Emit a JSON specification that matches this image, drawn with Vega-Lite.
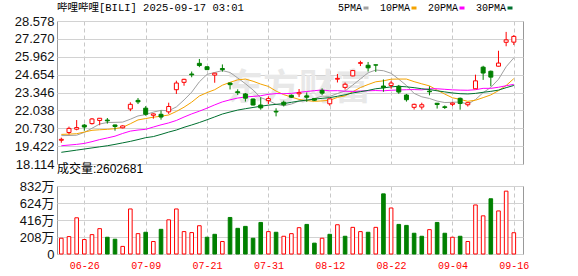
{
  "$schema": "https://vega.github.io/schema/vega-lite/v6.json",
  "padding": {"left": 13, "top": 2, "right": 4, "bottom": 0},
  "bounds": "flush",
  "spacing": 22,
  "config": {
    "view": {"stroke": "#999999", "strokeWidth": 1},
    "axis": {"labelFont": "Liberation Sans, Noto Sans CJK SC", "labelFontSize": 13, "labelColor": "#111111", "ticks": false, "domain": false, "gridColor": "#d2d2d2", "gridWidth": 1, "labelPadding": 3, "labelOverlap": false},
    "title": {"anchor": "start", "fontWeight": "normal", "color": "#000000", "frame": "group"}
  },
  "data": {"values": [
    {"d":"06-23","open":19.85,"high":20.04,"low":19.67,"close":19.92,"vol":1930000,"5PMA":20.19,"10PMA":20.28,"20PMA":19.45,"30PMA":18.97},
    {"d":"06-24","open":20.42,"high":20.85,"low":20.28,"close":20.72,"vol":2130000,"5PMA":20.20,"10PMA":20.30,"20PMA":19.50,"30PMA":19.05},
    {"d":"06-25","open":20.66,"high":21.33,"low":20.58,"close":20.78,"vol":4430000,"5PMA":20.22,"10PMA":20.33,"20PMA":19.55,"30PMA":19.13},
    {"d":"06-26","open":20.96,"high":21.04,"low":20.55,"close":20.82,"vol":1770000,"5PMA":20.43,"10PMA":20.45,"20PMA":19.62,"30PMA":19.21},
    {"d":"06-27","open":21.07,"high":21.48,"low":21.00,"close":21.41,"vol":2370000,"5PMA":20.73,"10PMA":20.58,"20PMA":19.75,"30PMA":19.29},
    {"d":"06-30","open":21.30,"high":21.48,"low":20.95,"close":21.46,"vol":3100000,"5PMA":21.04,"10PMA":20.62,"20PMA":19.90,"30PMA":19.37},
    {"d":"07-01","open":21.33,"high":21.48,"low":21.07,"close":21.27,"vol":2050000,"5PMA":21.15,"10PMA":20.65,"20PMA":20.02,"30PMA":19.45},
    {"d":"07-02","open":20.97,"high":21.00,"low":20.55,"close":20.86,"vol":1810000,"5PMA":21.16,"10PMA":20.70,"20PMA":20.15,"30PMA":19.55},
    {"d":"07-03","open":20.76,"high":20.95,"low":20.72,"close":20.90,"vol":930000,"5PMA":21.18,"10PMA":20.80,"20PMA":20.35,"30PMA":19.66},
    {"d":"07-07","open":22.14,"high":22.63,"low":21.98,"close":22.48,"vol":5510000,"5PMA":21.39,"10PMA":21.06,"20PMA":20.52,"30PMA":19.77},
    {"d":"07-08","open":22.77,"high":22.94,"low":22.50,"close":22.66,"vol":2490000,"5PMA":21.63,"10PMA":21.34,"20PMA":20.60,"30PMA":19.90},
    {"d":"07-09","open":22.20,"high":22.35,"low":21.65,"close":21.75,"vol":2660000,"5PMA":21.73,"10PMA":21.44,"20PMA":20.65,"30PMA":20.04},
    {"d":"07-10","open":21.68,"high":21.82,"low":21.43,"close":21.78,"vol":1530000,"5PMA":21.91,"10PMA":21.54,"20PMA":20.82,"30PMA":20.12},
    {"d":"07-11","open":21.75,"high":22.02,"low":21.36,"close":21.55,"vol":3020000,"5PMA":22.04,"10PMA":21.61,"20PMA":20.98,"30PMA":20.28},
    {"d":"07-14","open":21.93,"high":22.60,"low":21.78,"close":22.32,"vol":4180000,"5PMA":22.01,"10PMA":21.70,"20PMA":21.12,"30PMA":20.45},
    {"d":"07-15","open":23.55,"high":24.21,"low":23.24,"close":24.04,"vol":5510000,"5PMA":22.29,"10PMA":21.96,"20PMA":21.30,"30PMA":20.60},
    {"d":"07-16","open":24.09,"high":24.35,"low":23.84,"close":24.31,"vol":2740000,"5PMA":22.80,"10PMA":22.27,"20PMA":21.55,"30PMA":20.80},
    {"d":"07-17","open":24.70,"high":24.88,"low":24.46,"close":24.64,"vol":2620000,"5PMA":23.37,"10PMA":22.64,"20PMA":21.78,"30PMA":20.97},
    {"d":"07-18","open":25.48,"high":25.80,"low":25.20,"close":25.32,"vol":3460000,"5PMA":24.13,"10PMA":23.09,"20PMA":21.98,"30PMA":21.15},
    {"d":"07-21","open":25.23,"high":25.25,"low":25.00,"close":25.02,"vol":2050000,"5PMA":24.67,"10PMA":23.34,"20PMA":22.20,"30PMA":21.35},
    {"d":"07-22","open":24.62,"high":24.78,"low":24.06,"close":24.76,"vol":2410000,"5PMA":24.81,"10PMA":23.55,"20PMA":22.44,"30PMA":21.56},
    {"d":"07-23","open":25.10,"high":25.40,"low":24.87,"close":25.02,"vol":1530000,"5PMA":24.95,"10PMA":23.88,"20PMA":22.66,"30PMA":21.77},
    {"d":"07-24","open":24.04,"high":24.06,"low":23.57,"close":23.92,"vol":4470000,"5PMA":24.81,"10PMA":24.09,"20PMA":22.81,"30PMA":21.92},
    {"d":"07-25","open":23.40,"high":23.58,"low":23.17,"close":23.33,"vol":3140000,"5PMA":24.41,"10PMA":24.27,"20PMA":22.94,"30PMA":22.06},
    {"d":"07-28","open":23.24,"high":23.31,"low":22.68,"close":22.93,"vol":3380000,"5PMA":23.99,"10PMA":24.33,"20PMA":23.02,"30PMA":22.16},
    {"d":"07-29","open":22.87,"high":22.90,"low":22.40,"close":22.43,"vol":1930000,"5PMA":23.53,"10PMA":24.17,"20PMA":23.06,"30PMA":22.25},
    {"d":"07-30","open":22.43,"high":22.99,"low":22.09,"close":22.22,"vol":3860000,"5PMA":22.97,"10PMA":23.96,"20PMA":23.11,"30PMA":22.34},
    {"d":"07-31","open":22.75,"high":23.07,"low":22.50,"close":22.90,"vol":2740000,"5PMA":22.76,"10PMA":23.79,"20PMA":23.21,"30PMA":22.42},
    {"d":"08-01","open":21.97,"high":22.19,"low":21.60,"close":21.92,"vol":2660000,"5PMA":22.48,"10PMA":23.45,"20PMA":23.27,"30PMA":22.48},
    {"d":"08-04","open":22.63,"high":22.75,"low":22.33,"close":22.45,"vol":2170000,"5PMA":22.38,"10PMA":23.19,"20PMA":23.26,"30PMA":22.53},
    {"d":"08-05","open":23.14,"high":23.20,"low":22.95,"close":23.00,"vol":2490000,"5PMA":22.50,"10PMA":23.01,"20PMA":23.28,"30PMA":22.63},
    {"d":"08-06","open":23.25,"high":23.60,"low":23.02,"close":23.33,"vol":3220000,"5PMA":22.72,"10PMA":22.84,"20PMA":23.36,"30PMA":22.72},
    {"d":"08-07","open":23.10,"high":23.35,"low":22.67,"close":23.00,"vol":3620000,"5PMA":22.74,"10PMA":22.75,"20PMA":23.42,"30PMA":22.79},
    {"d":"08-08","open":22.90,"high":22.92,"low":22.72,"close":22.78,"vol":1330000,"5PMA":22.91,"10PMA":22.70,"20PMA":23.48,"30PMA":22.86},
    {"d":"08-11","open":23.50,"high":23.65,"low":23.15,"close":23.30,"vol":1930000,"5PMA":23.08,"10PMA":22.73,"20PMA":23.53,"30PMA":22.92},
    {"d":"08-12","open":22.52,"high":22.90,"low":22.38,"close":22.88,"vol":2410000,"5PMA":23.06,"10PMA":22.78,"20PMA":23.47,"30PMA":22.97},
    {"d":"08-13","open":24.32,"high":24.70,"low":24.08,"close":24.38,"vol":3580000,"5PMA":23.27,"10PMA":22.99,"20PMA":23.48,"30PMA":23.07},
    {"d":"08-14","open":23.72,"high":24.08,"low":23.56,"close":23.95,"vol":2170000,"5PMA":23.46,"10PMA":23.10,"20PMA":23.44,"30PMA":23.18},
    {"d":"08-15","open":24.56,"high":25.00,"low":24.53,"close":24.95,"vol":3260000,"5PMA":23.89,"10PMA":23.40,"20PMA":23.42,"30PMA":23.31},
    {"d":"08-18","open":25.48,"high":25.67,"low":25.28,"close":25.53,"vol":2740000,"5PMA":24.34,"10PMA":23.71,"20PMA":23.45,"30PMA":23.41},
    {"d":"08-19","open":25.34,"high":25.58,"low":24.88,"close":25.15,"vol":2660000,"5PMA":24.79,"10PMA":23.93,"20PMA":23.47,"30PMA":23.50},
    {"d":"08-20","open":25.37,"high":25.38,"low":24.85,"close":25.35,"vol":3260000,"5PMA":24.99,"10PMA":24.13,"20PMA":23.49,"30PMA":23.62},
    {"d":"08-21","open":23.82,"high":24.30,"low":23.40,"close":23.70,"vol":7360000,"5PMA":24.94,"10PMA":24.20,"20PMA":23.47,"30PMA":23.68},
    {"d":"08-22","open":23.86,"high":24.20,"low":23.62,"close":24.04,"vol":5630000,"5PMA":24.75,"10PMA":24.32,"20PMA":23.51,"30PMA":23.76},
    {"d":"08-25","open":23.80,"high":23.90,"low":23.25,"close":23.38,"vol":3620000,"5PMA":24.32,"10PMA":24.33,"20PMA":23.53,"30PMA":23.80},
    {"d":"08-26","open":23.16,"high":23.24,"low":22.68,"close":22.82,"vol":3500000,"5PMA":23.86,"10PMA":24.33,"20PMA":23.55,"30PMA":23.76},
    {"d":"08-27","open":22.26,"high":22.53,"low":22.10,"close":22.48,"vol":2540000,"5PMA":23.28,"10PMA":24.14,"20PMA":23.56,"30PMA":23.70},
    {"d":"08-28","open":22.28,"high":22.60,"low":22.10,"close":22.45,"vol":2170000,"5PMA":23.03,"10PMA":23.98,"20PMA":23.54,"30PMA":23.62},
    {"d":"08-29","open":23.45,"high":23.80,"low":23.14,"close":23.40,"vol":2980000,"5PMA":22.91,"10PMA":23.83,"20PMA":23.62,"30PMA":23.56},
    {"d":"09-02","open":22.56,"high":22.58,"low":22.17,"close":22.47,"vol":3860000,"5PMA":22.72,"10PMA":23.52,"20PMA":23.62,"30PMA":23.47},
    {"d":"09-03","open":22.30,"high":22.40,"low":22.14,"close":22.25,"vol":2540000,"5PMA":22.61,"10PMA":23.23,"20PMA":23.58,"30PMA":23.39},
    {"d":"09-04","open":22.48,"high":22.62,"low":22.35,"close":22.57,"vol":2050000,"5PMA":22.63,"10PMA":22.96,"20PMA":23.54,"30PMA":23.31},
    {"d":"09-05","open":22.92,"high":22.98,"low":22.09,"close":22.54,"vol":2170000,"5PMA":22.65,"10PMA":22.84,"20PMA":23.52,"30PMA":23.26},
    {"d":"09-08","open":22.45,"high":22.63,"low":22.32,"close":22.60,"vol":1530000,"5PMA":22.49,"10PMA":22.70,"20PMA":23.51,"30PMA":23.24},
    {"d":"09-09","open":23.62,"high":24.65,"low":23.60,"close":24.20,"vol":6000000,"5PMA":22.83,"10PMA":22.78,"20PMA":23.55,"30PMA":23.28},
    {"d":"09-10","open":25.20,"high":25.30,"low":24.27,"close":24.77,"vol":4670000,"5PMA":23.34,"10PMA":22.97,"20PMA":23.65,"30PMA":23.36},
    {"d":"09-11","open":24.90,"high":24.95,"low":23.80,"close":24.47,"vol":6760000,"5PMA":23.72,"10PMA":23.17,"20PMA":23.65,"30PMA":23.43},
    {"d":"09-12","open":25.27,"high":26.40,"low":25.25,"close":25.50,"vol":5270000,"5PMA":24.31,"10PMA":23.48,"20PMA":23.73,"30PMA":23.52},
    {"d":"09-15","open":27.02,"high":27.78,"low":26.73,"close":27.20,"vol":7690000,"5PMA":25.23,"10PMA":23.86,"20PMA":23.84,"30PMA":23.70},
    {"d":"09-16","open":27.03,"high":27.55,"low":26.82,"close":27.45,"vol":2602681,"5PMA":25.88,"10PMA":24.36,"20PMA":23.94,"30PMA":23.86}
  ]},
  "vconcat": [
    {
      "width": 466,
      "height": 143,
      "title": {"text": "哔哩哔哩[BILI] 2025-09-17 03:01", "font": "Liberation Mono, Noto Sans CJK SC", "fontSize": 10.5, "offset": 2},
      "encoding": {
        "x": {"field": "d", "type": "ordinal", "scale": {"type": "point", "padding": 0.88, "align": 0.32},
              "axis": {"values": ["06-26","07-09","07-21","07-31","08-12","08-22","09-04","09-16"], "labels": false, "grid": true, "gridDash": [4, 3], "gridColor": "#c8c8c8", "title": null}}
      },
      "layer": [
        {
          "data": {"values": [{"t": "东方财富"}]},
          "mark": {"type": "text", "font": "Noto Sans CJK SC", "fontWeight": "bold", "fontSize": 36, "color": "#e8e8e8", "baseline": "middle", "align": "center"},
          "encoding": {
            "x": {"datum": "08-06", "type": "ordinal"},
            "y": {"datum": 23.6, "type": "quantitative", "scale": {"domain": [18.114, 28.578], "nice": false, "zero": false},
                  "axis": {"values": [18.114, 19.422, 20.730, 22.038, 23.346, 24.654, 25.962, 27.270, 28.578], "tickCount": 20, "format": ".3f", "grid": true, "labelOverlap": false, "title": null}},
            "text": {"field": "t"}
          }
        },
        {
          "transform": [{"fold": ["5PMA", "10PMA", "20PMA", "30PMA"], "as": ["ma", "v"]}],
          "mark": {"type": "line", "strokeWidth": 1},
          "encoding": {
            "y": {"field": "v", "type": "quantitative", "scale": {"domain": [18.114, 28.578], "nice": false, "zero": false},
                  "axis": {"values": [18.114, 19.422, 20.730, 22.038, 23.346, 24.654, 25.962, 27.270, 28.578], "tickCount": 20, "format": ".3f", "grid": true, "labelOverlap": false, "title": null}},
            "color": {"field": "ma", "type": "nominal",
                      "scale": {"domain": ["5PMA", "10PMA", "20PMA", "30PMA"], "range": ["#a0a0a0", "#f4a300", "#ff00ff", "#007030"]},
                      "legend": {"orient": "none", "legendX": 304, "legendY": -18, "direction": "horizontal", "title": null,
                                 "labelFont": "Liberation Mono", "labelFontSize": 10, "labelColor": "#000000",
                                 "symbolType": "stroke", "symbolStrokeWidth": 3, "symbolSize": 25,
                                 "labelAlign": "right", "labelOffset": -9, "columnPadding": 4}}
          }
        },
        {
          "mark": {"type": "rule", "strokeWidth": 1},
          "encoding": {
            "y": {"field": "low", "type": "quantitative", "scale": {"domain": [18.114, 28.578], "nice": false, "zero": false},
                  "axis": {"values": [18.114, 19.422, 20.730, 22.038, 23.346, 24.654, 25.962, 27.270, 28.578], "tickCount": 20, "format": ".3f", "grid": true, "labelOverlap": false, "title": null}},
            "y2": {"field": "high"},
            "color": {"condition": {"test": "datum.close >= datum.open", "value": "#ff0000"}, "value": "#008000"}
          }
        },
        {
          "transform": [{"filter": "datum.close >= datum.open"}],
          "mark": {"type": "bar", "width": 4, "fill": "#ffffff", "stroke": "#ff0000", "strokeWidth": 1},
          "encoding": {
            "y": {"field": "open", "type": "quantitative", "scale": {"domain": [18.114, 28.578], "nice": false, "zero": false},
                  "axis": {"values": [18.114, 19.422, 20.730, 22.038, 23.346, 24.654, 25.962, 27.270, 28.578], "tickCount": 20, "format": ".3f", "grid": true, "labelOverlap": false, "title": null}},
            "y2": {"field": "close"}
          }
        },
        {
          "transform": [{"filter": "datum.close < datum.open"}],
          "mark": {"type": "bar", "width": 4, "fill": "#008000", "stroke": "#008000", "strokeWidth": 1},
          "encoding": {
            "y": {"field": "open", "type": "quantitative", "scale": {"domain": [18.114, 28.578], "nice": false, "zero": false},
                  "axis": {"values": [18.114, 19.422, 20.730, 22.038, 23.346, 24.654, 25.962, 27.270, 28.578], "tickCount": 20, "format": ".3f", "grid": true, "labelOverlap": false, "title": null}},
            "y2": {"field": "close"}
          }
        }
      ]
    },
    {
      "width": 466,
      "height": 68,
      "title": {"text": "成交量:2602681", "font": "Liberation Sans, Noto Sans CJK SC", "fontSize": 12, "offset": 4},
      "transform": [{"window": [{"op": "lag", "field": "close", "as": "prev"}], "sort": [{"field": "d", "order": "ascending"}]}],
      "encoding": {
        "x": {"field": "d", "type": "ordinal", "scale": {"type": "point", "padding": 0.88, "align": 0.32},
              "axis": {"values": ["06-26","07-09","07-21","07-31","08-12","08-22","09-04","09-16"], "labelAngle": 0, "labelColor": "#ff0000", "labelFont": "Liberation Mono", "labelFontSize": 10, "labelPadding": 6, "grid": true, "gridDash": [4, 3], "gridColor": "#c8c8c8", "title": null}},
        "y": {"field": "vol", "type": "quantitative", "scale": {"domain": [0, 8320000], "nice": false},
              "axis": {"values": [0, 2080000, 4160000, 6240000, 8320000], "tickCount": 20, "labelExpr": "datum.value == 0 ? '0' : format(datum.value / 10000, 'd') + '万'", "grid": true, "labelOverlap": false, "title": null}}
      },
      "layer": [
        {
          "transform": [{"filter": "datum.prev == null || datum.close >= datum.prev"}],
          "mark": {"type": "bar", "width": 3.6, "fill": "#ffffff", "stroke": "#ff0000", "strokeWidth": 1}
        },
        {
          "transform": [{"filter": "datum.prev != null && datum.close < datum.prev"}],
          "mark": {"type": "bar", "width": 3.6, "fill": "#008000", "stroke": "#008000", "strokeWidth": 1}
        }
      ]
    }
  ]
}
